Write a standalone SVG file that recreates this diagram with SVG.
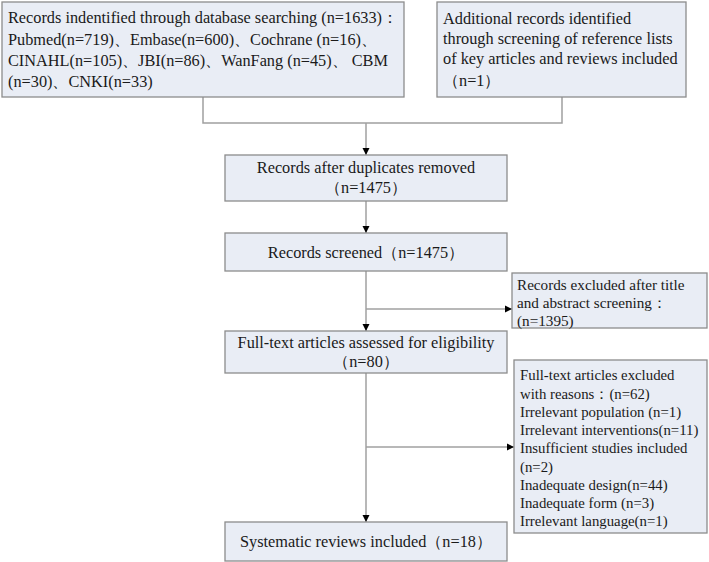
<svg xmlns="http://www.w3.org/2000/svg" width="709" height="562" viewBox="0 0 709 562">
<defs>
<marker id="ah" markerWidth="8" markerHeight="8" refX="7" refY="4" orient="auto" markerUnits="userSpaceOnUse">
<path d="M0,0.5 L7,4 L0,7.5 Z" fill="#000"/>
</marker>
<style>
.box{fill:#E9EDF5;stroke:#8C8C8C;stroke-width:1.3}
.t{font-size:16.3px;fill:#1a1a1a}
.s{font-size:15.2px}
.xs{font-size:14.8px}
.m{text-anchor:middle}
.c{fill:none;stroke:#A0A0A0;stroke-width:1.5}
</style>
</defs>
<rect width="709" height="562" fill="#fff"/>
<g id="connectors">
<path class="c" d="M203,97 V123 H562 V97"/>
<path class="c" d="M366,123 V155" marker-end="url(#ah)"/>
<path class="c" d="M366,201 V233" marker-end="url(#ah)"/>
<path class="c" d="M366,271 V331" marker-end="url(#ah)"/>
<path class="c" d="M366,309 H512" marker-end="url(#ah)"/>
<path class="c" d="M366,373 V522" marker-end="url(#ah)"/>
<path class="c" d="M366,447 H514" marker-end="url(#ah)"/>
</g>
<g font-family="Liberation Serif, Tinos, DejaVu Serif, serif">
<g id="db-search">
<rect class="box" x="2" y="2" width="402" height="95"/>
<text class="t" x="8" y="23">Records indentified through database searching (n=1633)：</text>
<text class="t" x="8" y="45">Pubmed(n=719)、Embase(n=600)、Cochrane (n=16)、</text>
<text class="t" x="8" y="66">CINAHL(n=105)、JBI(n=86)、WanFang (n=45)、 CBM</text>
<text class="t" x="8" y="87">(n=30)、CNKI(n=33)</text>
</g>
<g id="additional">
<rect class="box" x="437" y="2" width="249" height="95"/>
<text class="t" x="443" y="24">Additional records identified</text>
<text class="t" x="443" y="44">through screening of reference lists</text>
<text class="t" x="443" y="64">of key articles and reviews included</text>
<text class="t" x="443" y="86">（n=1）</text>
</g>
<g id="duplicates">
<rect class="box" x="225" y="155" width="282" height="46"/>
<text class="t m" x="366" y="173">Records after duplicates removed</text>
<text class="t m" x="366" y="193">（n=1475）</text>
</g>
<g id="screened">
<rect class="box" x="225" y="233" width="282" height="38"/>
<text class="t m" x="366" y="258">Records screened（n=1475）</text>
</g>
<g id="excluded-title">
<rect class="box" x="512" y="273" width="195" height="55"/>
<text class="t s" x="517" y="290">Records excluded after title</text>
<text class="t s" x="517" y="308">and abstract screening：</text>
<text class="t s" x="517" y="326">(n=1395)</text>
</g>
<g id="fulltext">
<rect class="box" x="225" y="331" width="282" height="42"/>
<text class="t m" x="366" y="348">Full-text articles assessed for eligibility</text>
<text class="t m" x="366" y="367">（n=80）</text>
</g>
<g id="excluded-fulltext">
<rect class="box" x="514" y="360" width="193" height="173"/>
<text class="t xs" x="520" y="380">Full-text articles excluded</text>
<text class="t xs" x="520" y="399">with reasons：(n=62)</text>
<text class="t xs" x="520" y="417">Irrelevant population (n=1)</text>
<text class="t xs" x="520" y="435">Irrelevant interventions(n=11)</text>
<text class="t xs" x="520" y="453">Insufficient studies included</text>
<text class="t xs" x="520" y="472">(n=2)</text>
<text class="t xs" x="520" y="490">Inadequate design(n=44)</text>
<text class="t xs" x="520" y="508">Inadequate form (n=3)</text>
<text class="t xs" x="520" y="526">Irrelevant language(n=1)</text>
</g>
<g id="included">
<rect class="box" x="225" y="522" width="282" height="39"/>
<text class="t m" x="366" y="547">Systematic reviews included（n=18）</text>
</g>
</g>
</svg>
